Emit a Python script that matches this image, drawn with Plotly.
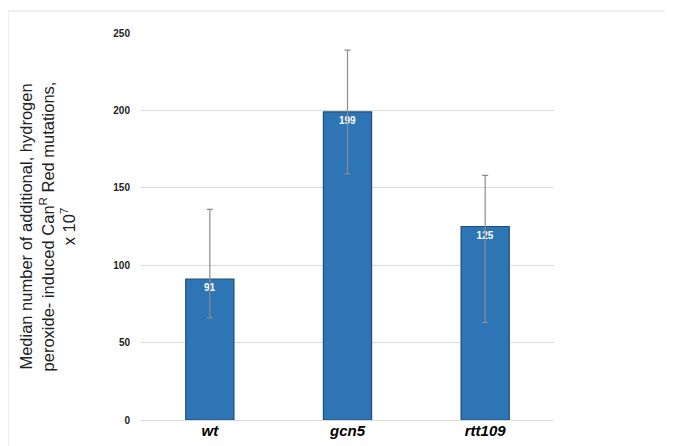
import plotly.graph_objects as go

categories = ["wt", "gcn5", "rtt109"]
values = [91, 199, 125]
err_plus = [45, 40, 33]
err_minus = [25, 40, 62]
y_ticks = [0, 50, 100, 150, 200, 250]

fig = go.Figure()
fig.add_trace(go.Bar(
    x=[f"<b><i>{c}</i></b>" for c in categories],
    y=values,
    width=0.35,
    marker=dict(color="#2E75B6", line=dict(color="#1F4E79", width=1.2)),
    text=[f"<b>{v}</b>" for v in values],
    textposition="inside",
    insidetextanchor="end",
    textfont=dict(color="white", size=10, family="Liberation Sans"),
    error_y=dict(type="data", symmetric=False, array=err_plus, arrayminus=err_minus,
                 color="#8c8c8c", thickness=1.2, width=3),
))

fig.update_layout(
    width=673, height=446,
    margin=dict(l=133, r=127, t=25, b=34),
    paper_bgcolor="white", plot_bgcolor="white",
    showlegend=False,
    font=dict(family="Liberation Sans", color="#222"),
    xaxis=dict(showline=False, tickfont=dict(size=15, color="black"), ticks=""),
    yaxis=dict(range=[0, 250], tickvals=y_ticks, showgrid=True, gridcolor="#d9d9d9",
               gridwidth=1, zeroline=True, zerolinecolor="#d9d9d9", zerolinewidth=1,
               tickfont=dict(size=10, color="#222", weight="bold"), ticklabelstandoff=10,
               title=dict(text="Median number of additional, hydrogen<br>peroxide- induced Can<sup>R</sup> Red mutations,<br>x 10<sup>7</sup>",
                          font=dict(size=16.5, color="#222"), standoff=33)),
)
fig.add_shape(type="rect", xref="paper", yref="paper", x0=-133/413, x1=1+124/413, y0=-31/387, y1=1+22/387,
              line=dict(color="#dddddd", width=1))
fig.write_html("out.html")
